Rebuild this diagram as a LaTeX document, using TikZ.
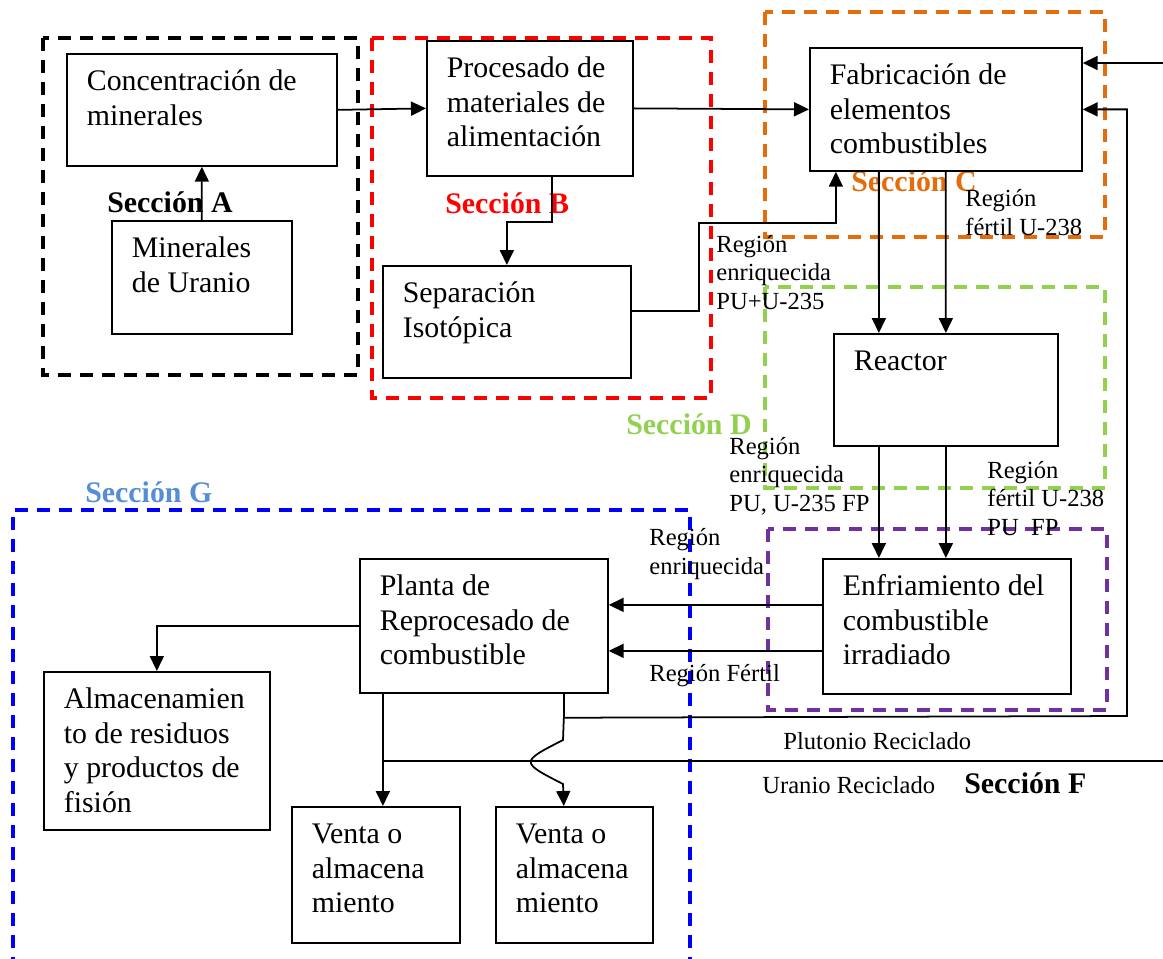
\documentclass[tikz,border=0pt]{standalone}
\usepackage{fontspec}
\setmainfont{Liberation Serif}
\usepackage{xcolor}
\usetikzlibrary{arrows.meta,positioning}
\definecolor{secA}{HTML}{000000}
\definecolor{secB}{HTML}{FF0000}
\definecolor{secC}{HTML}{E46C0A}
\definecolor{secD}{HTML}{92D050}
\definecolor{secE}{HTML}{7030A0}
\definecolor{secG}{HTML}{0000FF}
\definecolor{secGtxt}{HTML}{558ED5}
\newcommand{\blktxt}[3]{\parbox[c][#2][t]{#1}{\raggedright\strut #3}}

\begin{document}
\begin{tikzpicture}[x=0.02cm, y=-0.02cm,
        blk/.style={draw, line width=1pt, anchor=north west, inner xsep=0.4cm, inner ysep=0.26cm, font=\fontsize{17}{19.6}\selectfont},
        lbl/.style={anchor=base west, inner sep=0pt, align=left, font=\fontsize{14}{16.2}\selectfont},
        sec/.style={anchor=base west, inner sep=0pt, font=\fontsize{17}{19.6}\selectfont\bfseries},
        zone/.style={dash pattern=on 0.26cm off 0.18cm, line width=1.8pt},
        arrow/.style={-{Triangle[length=0.3cm,width=0.28cm]}, line width=1pt},
        wire/.style={line width=1pt}
    ]
        \useasboundingbox (0,0) rectangle (1163,958);

        % sections
        \draw[zone, secA] (43,38) rectangle (358,375);
        \draw[zone, secB] (372,38) rectangle (711,398);
        \draw[zone, secC] (765,12) rectangle (1105,237);
        \draw[zone, secD] (765,287) rectangle (1105,488);
        \draw[zone, secE] (768,529) rectangle (1107,710);
        \draw[zone, secG] (13,970) -- (13,510) -- (690,510) -- (690,970);

        \node[sec, secA] (secA) at (107,212) {Sección A};
        \node[sec, secB] (secB) at (445,213) {Sección B};
        \node[sec, secC] (secC) at (851,191) {Sección C};
        \node[sec, secD] (secD) at (626,434) {Sección D};
        \node[sec, secGtxt] (secG) at (85,502) {Sección G};
        \node[sec] (secF) at (964,793) {Sección F};

        % blocks
        \node[blk] (conc) at (66,53) {\blktxt{4.6cm}{1.72cm}{Concentración de\\minerales}};
        \node[blk] (miner) at (111,220) {\blktxt{2.8cm}{1.74cm}{Minerales\\de Uranio}};
        \node[blk] (proc) at (426,40) {\blktxt{3.32cm}{2.18cm}{Procesado de\\materiales de\\alimentación}};
        \node[blk] (sep) at (382,265) {\blktxt{4.16cm}{1.72cm}{Separación\\Isotópica}};
        \node[blk] (fab) at (809,47) {\blktxt{4.64cm}{1.94cm}{Fabricación de\\elementos\\combustibles}};
        \node[blk] (reac) at (833,333) {\blktxt{3.68cm}{1.72cm}{Reactor}};
        \node[blk] (enfr) at (822,558) {\blktxt{4.16cm}{2.18cm}{Enfriamiento del\\combustible\\irradiado}};
        \node[blk] (planta) at (359,558) {\blktxt{4.16cm}{2.16cm}{Planta de\\Reprocesado de\\combustible}};
        \node[blk] (alm) at (43,671) {\blktxt{3.72cm}{2.64cm}{Almacenamien\\to de residuos\\y productos de\\fisión}};
        \node[blk] (venta1) at (291,806) {\blktxt{2.56cm}{2.2cm}{Venta o\\almacena\\miento}};
        \node[blk] (venta2) at (495,806) {\blktxt{2.34cm}{2.2cm}{Venta o\\almacena\\miento}};

        % flows
        \draw[arrow] (miner.north) -- (conc.south);
        \draw[arrow] (conc.east) -- (proc.west);
        \draw[arrow] (proc.east) -- (fab.west);
        \draw[arrow] ([xshift=0.44cm]proc.south) -- ++(0,45) -| (sep.north);
        \draw[arrow] ([yshift=0.22cm]sep.east) -- ++(67,0) -- ++(0,-88) -| ([xshift=-2.2cm]fab.south);
        \draw[arrow] ([xshift=-1.34cm]fab.south) -- ([xshift=-1.34cm]reac.north);
        \draw[arrow] (fab.south) -- (reac.north);
        \draw[arrow] ([xshift=-1.34cm]reac.south) -- ([xshift=-1.34cm]reac.south |- enfr.north);
        \draw[arrow] (reac.south) -- (reac.south |- enfr.north);
        \draw[arrow] ([yshift=0.43cm]enfr.west) -- ([yshift=0.43cm]enfr.west -| planta.east);
        \draw[arrow] ([yshift=-0.49cm]enfr.west) -- ([yshift=-0.49cm]enfr.west -| planta.east);
        \draw[arrow] (planta.west) -| (alm.north);
        \draw[arrow] ([xshift=-2.02cm]planta.south) -- ([xshift=-2.02cm]planta.south |- venta1.north);

        \coordinate (pujct) at ([xshift=1.6cm,yshift=-0.48cm]planta.south);
        \draw[wire] ([xshift=1.6cm]planta.south) -- (pujct);
        \draw[arrow] (pujct) -- (563,740) .. controls (520,762) .. (563,784) -- (pujct |- venta2.north);
        \draw[arrow] (pujct) -- (1127,716) |- (fab.east);

        \coordinate (uin) at (1163,761);
        \draw[wire] (uin) -- (382,761);
        \coordinate (fin) at (1163,63);
        \draw[arrow] (fin) -- (fin -| fab.east);

        % labels (base = last line)
        \node[lbl] (lbl1) at (716,309) {Región\\enriquecida\\PU+U-235};
        \node[lbl] (lbl2) at (965,235) {Región\\fértil U-238};
        \node[lbl] (lbl3) at (729,511) {Región\\enriquecida\\PU, U-235 FP};
        \node[lbl] (lbl4) at (987,535) {Región\\fértil U-238\\PU\ \ FP};
        \node[lbl] (lbl5) at (649,574) {Región\\enriquecida};
        \node[lbl] (lbl6) at (649,681) {Región Fértil};
        \node[lbl] (lbl7) at (783,749) {Plutonio Reciclado};
        \node[lbl] (lbl8) at (762,793) {Uranio Reciclado};
    \end{tikzpicture}
\end{document}
